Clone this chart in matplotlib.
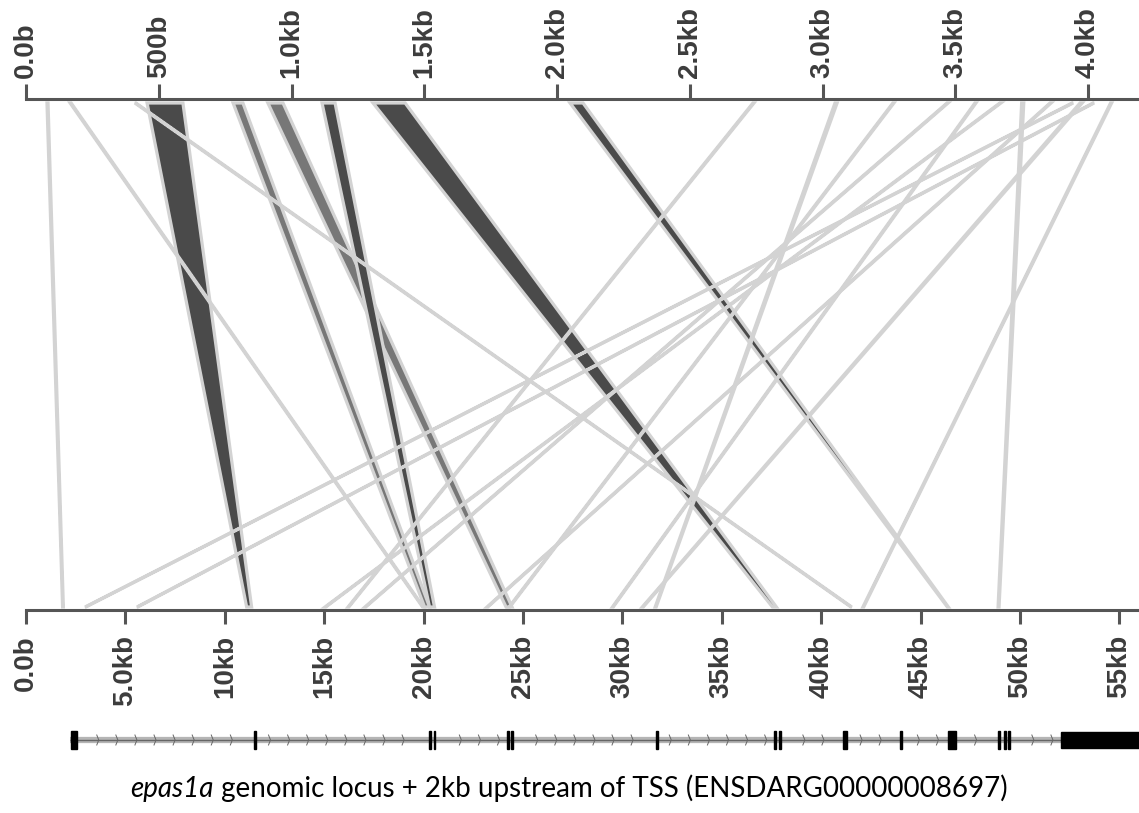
import numpy as np
import matplotlib.pyplot as plt
from matplotlib.patches import Polygon, Rectangle

# alignment blocks: query (top, kb) -> genomic locus (bottom, kb)
q_start = [0.456, 0.780, 0.911, 1.115, 1.307, 2.049, 3.047, 3.750, 3.970,
           0.079, 0.166, 0.410, 2.738, 3.265, 3.469, 3.574, 3.668, 3.857, 3.940, 4.019, 4.085]
q_end = [0.591, 0.817, 0.968, 1.164, 1.428, 2.098, 3.055, 3.758, 3.978,
         0.083, 0.170, 0.414, 2.742, 3.269, 3.473, 3.578, 3.672, 3.861, 3.944, 4.023, 4.089]
g_start = [11.10, 20.05, 24.15, 20.30, 37.55, 46.35, 31.65, 48.90, 31.00,
           1.84, 19.95, 41.50, 16.20, 24.30, 17.05, 29.50, 15.04, 23.19, 2.97, 5.58, 42.10]
g_end = [11.35, 20.30, 24.45, 20.55, 37.75, 46.40, 31.70, 48.95, 31.05,
         1.88, 19.99, 41.54, 16.24, 24.34, 17.09, 29.54, 15.08, 23.23, 3.01, 5.62, 42.14]
shade = ["dark", "mid", "mid", "dark", "dark", "dark", "dark", "dark", "dark",
         "light", "light", "light", "light", "light", "light", "light", "light", "light", "light", "light", "light"]

# gene model on the genomic axis (kb)
gene_start, gene_end = 2.2, 56.0
exon_start = [2.25, 11.45, 20.25, 20.50, 24.18, 24.40, 31.70, 37.65, 37.90, 41.10, 43.98, 46.40, 48.92, 49.18, 49.42]
exon_end = [2.55, 11.55, 20.35, 20.60, 24.28, 24.50, 31.78, 37.75, 38.00, 41.32, 44.06, 46.80, 49.02, 49.28, 49.52]
utr_start, utr_end = 52.05, 56.0

top_ticks = [0, 0.5, 1.0, 1.5, 2.0, 2.5, 3.0, 3.5, 4.0]
top_labels = ["0.0b", "500b", "1.0kb", "1.5kb", "2.0kb", "2.5kb", "3.0kb", "3.5kb", "4.0kb"]
bot_ticks = [0, 5, 10, 15, 20, 25, 30, 35, 40, 45, 50, 55]
bot_labels = ["0.0b", "5.0kb", "10kb", "15kb", "20kb", "25kb", "30kb", "35kb", "40kb", "45kb", "50kb", "55kb"]

plt.rcParams["font.family"] = ["Liberation Sans", "DejaVu Sans"]

W, H = 1139, 813
TOP_MAX = 4.192
BOT_MAX = 55.99
ratio = BOT_MAX / TOP_MAX

colors = {"dark": "#4a4a4a", "mid": "#777777", "light": "#d6d6d6"}
axis_col = "#555555"
lab_col = "#3c3c3c"

fig = plt.figure(figsize=(W / 100, H / 100), dpi=100)
ax = fig.add_axes([26 / W, 1 - 610 / H, 1113 / W, 511 / H])
ax.set_xlim(0, TOP_MAX)
ax.set_ylim(-3 / 504, 1 + 4 / 504)

def to_top(g):
    return np.asarray(g) / ratio

def to_bot(q):
    return np.asarray(q) * ratio

order = [i for i in range(len(shade)) if shade[i] != "light"] + [i for i in range(len(shade)) if shade[i] == "light"]
for i in order:
    pts = [(q_start[i], 1), (q_end[i], 1), (to_top(g_end[i]), 0), (to_top(g_start[i]), 0)]
    ax.add_patch(Polygon(pts, closed=True, facecolor=colors[shade[i]],
                         edgecolor="#d3d3d3", lw=2.3, joinstyle="miter", zorder=2))

for s in ["left", "right", "bottom"]:
    ax.spines[s].set_visible(False)
ax.spines["top"].set_color(axis_col)
ax.spines["top"].set_linewidth(2.2)
ax.xaxis.tick_top()
ax.set_xticks(top_ticks)
ax.set_xticklabels(top_labels, rotation=90, fontweight="bold")
ax.tick_params(axis="x", length=11, width=2.2, color=axis_col, pad=4,
               labelsize=20, labelcolor=lab_col)
ax.set_yticks([])

sec = ax.secondary_xaxis("bottom", functions=(to_bot, to_top))
sec.set_xticks(bot_ticks)
sec.set_xticklabels(bot_labels, rotation=90, fontweight="bold")
sec.tick_params(axis="x", length=10, width=2.2, color=axis_col, pad=8,
                labelsize=20, labelcolor=lab_col)
sec.spines["bottom"].set_color(axis_col)
sec.spines["bottom"].set_linewidth(2.2)

# gene track
gx = fig.add_axes([26 / W, 1 - 760 / H, 1113 / W, 40 / H])
gx.set_xlim(0, BOT_MAX)
gx.set_ylim(-1, 1)
gx.axis("off")
gx.plot([gene_start, gene_end], [0, 0], color="#b5b5b5", lw=4.5, solid_capstyle="butt", zorder=1)
gx.plot([gene_start, gene_end], [0, 0], color="#666666", lw=1.0, solid_capstyle="butt", zorder=2)
for a, b in zip(exon_start, exon_end):
    gx.add_patch(Rectangle((a, -0.45), b - a, 0.9, color="black", zorder=3))
gx.add_patch(Rectangle((utr_start, -0.38), utr_end - utr_start, 0.76, color="black", zorder=3))
chev = np.arange(gene_start + 0.5, utr_start, 0.96)
for c in chev:
    if min(abs(c - np.array(exon_start)).min(), abs(c - np.array(exon_end)).min()) > 0.35:
        gx.plot([c - 0.1, c, c - 0.1], [0.25, 0, -0.25], color="#666666", lw=0.7, zorder=2)

# title with italic gene name
fig.canvas.draw()
r = fig.canvas.get_renderer()
fs = 20
t1 = fig.text(0, 0, "epas1a", style="italic", fontsize=fs, family="Lato")
t2 = fig.text(0, 0, " genomic locus + 2kb upstream of TSS (ENSDARG00000008697)", fontsize=fs, family="Lato")
w1 = t1.get_window_extent(r).width
w2 = t2.get_window_extent(r).width
x0 = (569 - (w1 + w2) / 2) / W
y0 = 1 - 797 / H
t1.set_position((x0, y0))
t2.set_position((x0 + w1 / W, y0))

fig.savefig("out.png", dpi=100)
